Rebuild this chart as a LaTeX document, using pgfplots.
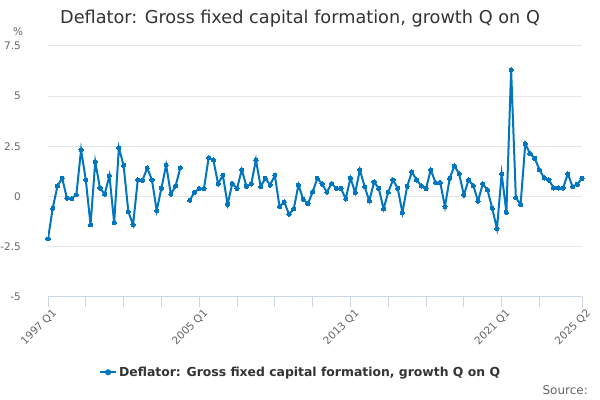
\documentclass[border=0pt]{standalone}
\usepackage{pgfplots}
\pgfplotsset{compat=1.18}
\usepackage{pgfplotstable}
\usepackage{fontspec}
\setmainfont{DejaVu Sans}
\definecolor{series}{RGB}{0,118,192}
\definecolor{titlec}{HTML}{333333}
\definecolor{labelc}{HTML}{666666}
\definecolor{gridc}{HTML}{E6E6E6}
\definecolor{axisc}{HTML}{CCD6EB}
\pgfplotstableread{
x y
0 -2.1
1 -0.58
2 0.53
3 0.92
4 -0.08
5 -0.1
6 0.1
7 2.33
8 0.83
9 -1.4
10 1.73
11 0.43
12 0.12
13 1.05
14 -1.3
15 2.43
16 1.55
17 -0.75
18 -1.4
19 0.83
20 0.82
21 1.42
22 0.83
23 -0.7
24 0.42
25 1.57
26 0.12
27 0.53
28 1.43
29 nan
30 -0.18
31 0.22
32 0.4
33 0.4
34 1.94
35 1.82
36 0.63
37 1.06
38 -0.38
39 0.65
40 0.4
41 1.33
42 0.51
43 0.63
44 1.82
45 0.5
46 0.91
47 0.58
48 1.06
49 -0.5
50 -0.27
51 -0.88
52 -0.61
53 0.58
54 -0.13
55 -0.36
56 0.23
57 0.91
58 0.63
59 0.22
60 0.65
61 0.41
62 0.41
63 -0.12
64 0.93
65 0.2
66 1.33
67 0.5
68 -0.22
69 0.73
70 0.41
71 -0.61
72 0.22
73 0.83
74 0.41
75 -0.8
76 0.51
77 1.23
78 0.83
79 0.53
80 0.41
81 1.33
82 0.7
83 0.7
84 -0.5
85 0.91
86 1.53
87 1.13
88 0.08
89 0.83
90 0.55
91 -0.22
92 0.63
93 0.33
94 -0.58
95 -1.6
96 1.13
97 -0.78
98 6.32
99 -0.05
100 -0.4
101 2.64
102 2.13
103 1.91
104 1.33
105 0.93
106 0.83
107 0.43
108 0.43
109 0.43
110 1.13
111 0.5
112 0.61
113 0.91
}\datatable
\begin{document}
\begin{tikzpicture}
\useasboundingbox (0,0) rectangle (600bp,400bp);
\node[anchor=base, text=titlec, font=\fontsize{17.7bp}{21bp}\selectfont] at (300bp,376bp) {Deflator: Gross fixed capital formation, growth Q on Q};
\node[anchor=base west, inner sep=0pt, text=labelc, font=\fontsize{10.5bp}{12bp}\selectfont] at (13bp,364bp) {\%};
\node[anchor=base east, inner sep=0pt, text=labelc, font=\fontsize{12bp}{14bp}\selectfont] at (588bp,6bp) {Source:};
\begin{axis}[
  at={(48bp,103bp)}, anchor=south west,
  scale only axis, width=534bp, height=251bp,
  xmin=0, xmax=113, ymin=-5, ymax=7.5,
  axis x line*=bottom, axis y line*=left,
  y axis line style={draw=none},
  x axis line style={-, draw=axisc, line width=1bp},
  ytick={-5,-2.5,0,2.5,5,7.5},
  yticklabels={-5,-2.5,0,2.5,5,7.5},
  ytick style={draw=none},
  ymajorgrids, grid style={draw=gridc, line width=1bp},
  xtick={0,32,64,96,113},
  xticklabels={1997 Q1,2005 Q1,2013 Q1,2021 Q1,2025 Q2},
  minor xtick={8,16,24,40,48,56,72,80,88,104},
  tick align=outside, major tick length=10bp, minor tick length=10bp,
  xtick style={draw=axisc, line width=1bp},
  minor x tick style={draw=axisc, line width=1bp},
  yticklabel style={anchor=east, inner sep=0pt, xshift=-17bp, text=labelc, font=\fontsize{10.5bp}{12bp}\selectfont},
  xticklabel style={rotate=45, anchor=north east, inner sep=1bp, xshift=3bp, yshift=-2bp, text=labelc, font=\fontsize{10.5bp}{12bp}\selectfont},
  unbounded coords=jump,
  legend style={at={(0.473,-0.30)}, anchor=center, draw=none, fill=none, font=\bfseries\fontsize{12.4bp}{14bp}\selectfont, text=titlec},
  legend cell align=left,
  legend image code/.code={\draw[series, line width=2bp] (0bp,0bp) -- (16bp,0bp); \fill[series] (8bp,0bp) circle (2bp);},
]
\addplot[series, line width=2bp, mark=*, mark size=2.1bp, mark options={fill=series, draw=series, line width=0pt}] table[x=x,y=y] {\datatable};
\addlegendentry{Deflator: Gross fixed capital formation, growth Q on Q}
\end{axis}
\end{tikzpicture}
\end{document}
